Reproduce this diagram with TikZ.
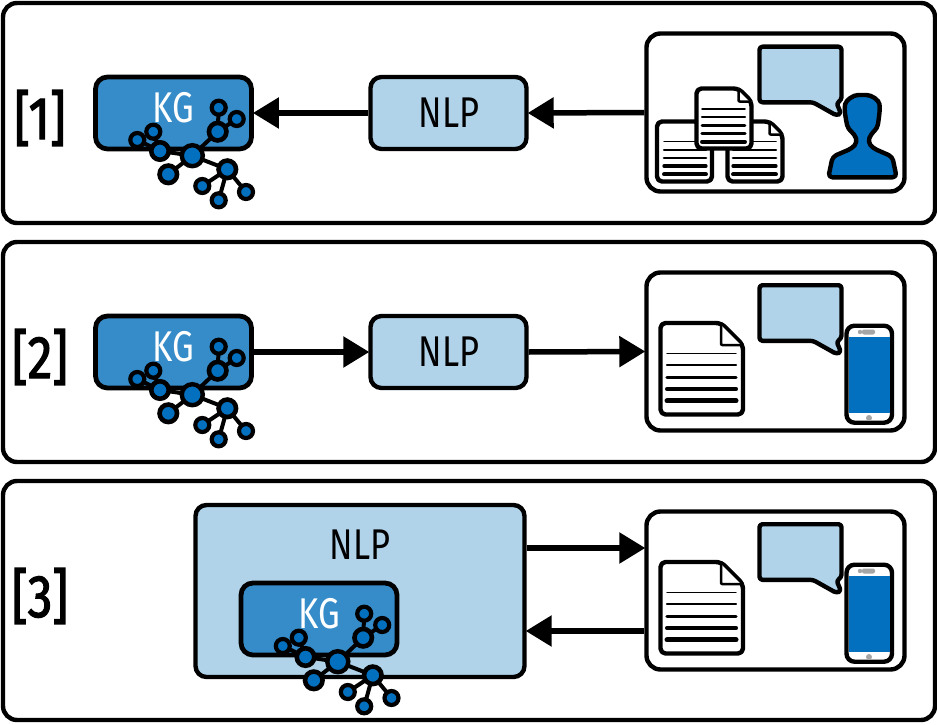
\documentclass[tikz,border=0pt]{standalone}
\usepackage{fontspec}
\setmainfont{Fira Sans}
\newfontfamily\narrowfont[FakeStretch=0.8]{Fira Sans}
\newfontfamily\tagfont[FakeStretch=0.82,FakeBold=2]{Fira Sans}
\usetikzlibrary{arrows.meta,calc}
\definecolor{lightblue}{HTML}{B0D3EA}
\definecolor{kgblue}{HTML}{368CC9}
\definecolor{deepblue}{HTML}{0270BE}
\tikzset{
  panel/.style={draw=black,line width=4.4pt,rounded corners=14pt,fill=white,inner sep=0pt,minimum width=932pt},
  inner panel/.style={draw=black,line width=4.4pt,rounded corners=14pt,fill=white,inner sep=0pt,minimum width=258pt,minimum height=158pt},
  nlpbox/.style={draw=black,line width=4.4pt,rounded corners=11pt,fill=lightblue,inner sep=0pt,minimum width=156pt,minimum height=72pt},
  kgbox/.style={draw=black,line width=4.8pt,rounded corners=12pt,fill=kgblue,inner sep=0pt,minimum width=156pt,minimum height=72pt},
  tagtext/.style={inner sep=0pt,font=\tagfont\fontsize{60}{66}\selectfont},
  boxtext/.style={inner sep=0pt,font=\narrowfont\fontsize{43}{47}\selectfont},
  flow/.style={line width=5.5pt,-{Triangle[length=26pt,width=30pt]},shorten >=-1pt},
  big/.style={circle,draw=black,line width=4.4pt,fill=deepblue,inner sep=0pt,minimum size=21pt},
  mid/.style={circle,draw=black,line width=4.6pt,fill=deepblue,inner sep=0pt,minimum size=17.5pt},
  small/.style={circle,draw=black,line width=4.2pt,fill=deepblue,inner sep=0pt,minimum size=14pt},
  link/.style={line width=4pt,draw=black},
  icon/.style={draw=black,line width=4.4pt,line join=round},
  kgtree/.pic={
    \draw[link] (192.3,155.7)--(217.7,131.7)--(218.7,107.7) (217.7,131.7)--(236.7,119)
      (192.3,155.7)--(160,151)--(153.3,131.7) (160,151)--(137.3,140)
      (192.3,155.7)--(168.3,174.3) (192.3,155.7)--(227.3,169.3)--(202.3,186)
      (227.3,169.3)--(218.7,200.3) (227.3,169.3)--(246,192);
    \node[big] (-a) at (192.3,155.7) {};
    \node[mid] (-b) at (217.7,131.7) {};
    \node[small] (-c) at (218.7,107.7) {};
    \node[small] (-d) at (236.7,119) {};
    \node[mid] (-e) at (160,151) {};
    \node[small] (-f) at (153.3,131.7) {};
    \node[small] (-g) at (137.3,140) {};
    \node[mid] (-h) at (168.3,174.3) {};
    \node[mid] (-i) at (227.3,169.3) {};
    \node[small] (-j) at (202.3,186) {};
    \node[small] (-k) at (218.7,200.3) {};
    \node[small] (-l) at (246,192) {};
  },
  bubble/.pic={
    \draw[icon,fill=lightblue,rounded corners=3pt] (759.5,46.7)--(841.5,46.7)--(841.5,100)--(836.5,103)--(841,113.5)--(836.5,115.5)--(813,102.3)--(759.5,102.3)--cycle;
  },
  phone/.pic={
    \draw[icon,fill=white,rounded corners=8pt] (846.5,325.7) rectangle (892,422.7);
    \fill[deepblue] (848.5,336.7) rectangle (890,412.7);
    \fill[black!35,rounded corners=2pt] (862,329.5) rectangle (875,334.5);
    \fill[black!35] (860,332) circle (2.2pt);
    \fill[black!35] (869,418) circle (3pt);
  },
}
\newcommand{\sheet}[6]{%
  \draw[icon,fill=white,rounded corners=5pt] (#1,#2)--(#3-#5,#2)--(#3,#2+#5)--(#3,#4)--(#1,#4)--cycle;
  \draw[icon,fill=white,line width=#6,rounded corners=1pt] (#3-#5,#2)--(#3-#5,#2+#5)--(#3,#2+#5);
  \draw[icon,fill=white,line join=round,line width=#6] (#3-#5,#2)--(#3,#2+#5);
}
\newcommand{\rows}[6]{%
  \foreach \n in {0,...,4}{
    \draw[line width={#5pt+\n*#6pt},black,line cap=round] (#1,{#3+\n*#4})--(#2,{#3+\n*#4});
  }
}
\begin{document}
\begin{tikzpicture}[x=1pt,y=-1pt]
\useasboundingbox (0,0) rectangle (937,725);
\fill[white] (0,0) rectangle (937,725);

\node[panel,minimum height=220pt] (p1) at (469,113) {};
\node[panel,minimum height=220pt] (p2) at (469,352) {};
\node[panel,minimum height=239pt] (p3) at (469,600.5) {};

\node[tagtext] (t1) at (40,118) {[1]};
\node[tagtext] (t2) at (40,357) {[2]};
\node[tagtext] (t3) at (40,596) {[3]};

% row 1
\node[inner panel] (r1) at (775.5,112.5) {};
\node[nlpbox] (n1) at (448.5,113) {};
\node[boxtext] (n1t) at (449,113) {NLP};
\node[kgbox] (k1) at (173.5,113) {};
\node[boxtext,white] (k1t) at (173,108) {KG};
\pic (tree1) {kgtree};
\draw[flow] (r1.west) -- (n1.east);
\draw[flow] (n1.west) -- (k1.east);
\sheet{727.5}{121.5}{782.5}{181.5}{13}{2.5pt}
\sheet{657}{121.5}{712}{181.5}{13}{2.5pt}
\rows{664}{706}{141.5}{8.2}{1.5}{0.6}
\rows{733}{776}{141.5}{8.2}{1.5}{0.6}
\sheet{696.5}{88.5}{751.5}{148.5}{13}{2.5pt}
\rows{702}{745}{109}{8.2}{1.5}{0.6}
\pic {bubble};
\begin{scope}[shift={(640,25)},x=0.3333pt,y=-0.3333pt]
\draw[icon,fill=deepblue,rounded corners=4pt] (565,457)--(578,395)--(636,370)--(652,352)--(644,328)--(624,312)--(618,285)--(613,250)
  .. controls (618,225) and (640,210) .. (667,210)
  .. controls (695,210) and (717,225) .. (720,250)
  --(716,285)--(712,310)--(692,328)--(684,352)--(700,370)--(757,395)--(770,457)--cycle;
\end{scope}

% row 2
\node[inner panel] (r2) at (775.5,351.5) {};
\node[nlpbox] (n2) at (448.5,352) {};
\node[boxtext] (n2t) at (449,352) {NLP};
\node[kgbox] (k2) at (173.5,352) {};
\node[boxtext,white] (k2t) at (173,347) {KG};
\pic[yshift=-239pt] (tree2) {kgtree};
\draw[flow] (k2.east) -- (n2.west);
\draw[flow] (n2.east) -- (r2.west);
\sheet{660.5}{323}{743}{414.5}{22}{2.5pt}
\rows{667}{736}{353.3}{11.9}{1.4}{0.9}
\pic (ph2) {phone};
\pic[yshift=-238.5pt] (b2) {bubble};

% row 3
\node[inner panel] (r3) at (775.5,590.5) {};
\node[nlpbox,minimum width=329pt,minimum height=172pt] (n3) at (360,591) {};
\node[boxtext] (n3t) at (360,545) {NLP};
\node[kgbox] (k3) at (319,619) {};
\node[boxtext,white] (k3t) at (319,614) {KG};
\pic[xshift=145.5pt,yshift=-506pt] (tree3) {kgtree};
\coordinate (upper) at (585,548);
\coordinate (lower) at (585,631);
\draw[flow] (n3.east |- upper) -- (r3.west |- upper);
\draw[flow] (r3.west |- lower) -- (n3.east |- lower);
\sheet{660.5}{562}{743}{653.5}{22}{2.5pt}
\rows{667}{736}{592.3}{11.9}{1.4}{0.9}
\pic[yshift=-239pt] (ph3) {phone};
\pic[yshift=-477.5pt] (b3) {bubble};
\end{tikzpicture}
\end{document}
